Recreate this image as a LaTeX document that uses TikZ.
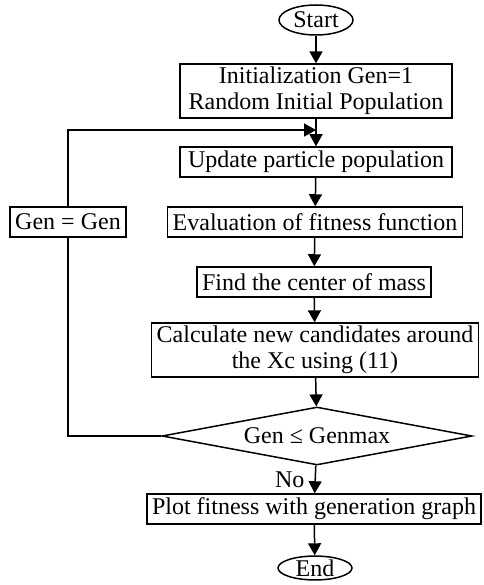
\documentclass[tikz,border=0pt]{standalone}
\usepackage{fontspec}
\setmainfont{Liberation Serif}
\usetikzlibrary{arrows.meta,shapes.geometric}

\begin{document}
\begin{tikzpicture}
  [x=1pt,y=-1pt,line width=1.5pt,>={Triangle[length=12pt,width=13pt]},
   every node/.style={font=\fontsize{24}{26}\selectfont,draw,inner xsep=5pt,inner ysep=3pt,minimum height=30pt,align=center},
   term/.style={ellipse,inner sep=1pt,minimum width=74pt},
   cond/.style={diamond,aspect=5.3,inner sep=0pt,minimum width=310pt,minimum height=58pt}]
  \useasboundingbox (0,0) rectangle (483,585);
  \node[term] (start) at (316,20) {Start};
  \node[minimum width=272pt] (init) at (316,91) {Initialization Gen=1\\Random Initial Population};
  \node[minimum width=272pt] (update) at (316,162) {Update particle population};
  \node (eval) at (315,222) {Evaluation of fitness function};
  \node (find) at (314,282) {Find the center of mass};
  \node (calc) at (315,350) {Calculate new candidates around\\the Xc using (11)};
  \node[cond] (dec) at (317,436) {Gen ≤ Genmax};
  \node (plot) at (314,509) {Plot fitness with generation graph};
  \node[term,minimum height=23pt,inner ysep=0pt] (end) at (315,568) {End};
  \node (gen) at (68,222) {Gen = Gen};
  \coordinate (join) at (316,130);
  \foreach \from/\to in {start/init,init/update,update/eval,eval/find,find/calc,calc/dec,plot/end}
    \draw[->] (\from) -- (\to);
  \draw[->] (dec) -- node[left=10pt,draw=none,minimum height=0pt,inner sep=0pt]{No} (plot);
  % loop back
  \draw (dec.west) -- (gen |- dec.west) -- (gen.south);
  \draw[->] (gen.north) |- (join);
\end{tikzpicture}
\end{document}
